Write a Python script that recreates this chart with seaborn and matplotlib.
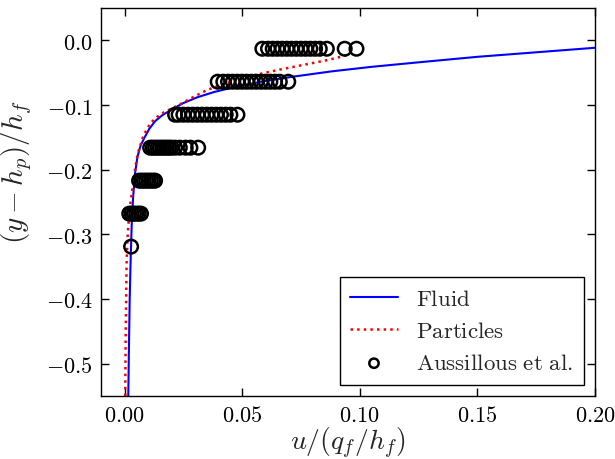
import matplotlib
matplotlib.use("Agg")
import matplotlib.pyplot as plt
import seaborn as sns
import numpy as np
import pandas as pd
from matplotlib.ticker import FuncFormatter, FixedLocator

# ---- data ----
fluid_u = [0.0016, 0.0019, 0.0022, 0.0026, 0.0031, 0.0037, 0.0045, 0.0055, 0.0068,
           0.0084, 0.0105, 0.0130, 0.0160, 0.0200, 0.0250, 0.0310, 0.0380, 0.0470,
           0.0580, 0.0720, 0.0880, 0.1050, 0.1250, 0.1500, 0.1750, 0.2000]
fluid_y = [-0.550, -0.470, -0.400, -0.340, -0.280, -0.240, -0.205, -0.180, -0.163,
           -0.151, -0.137, -0.125, -0.116, -0.107, -0.097, -0.088, -0.080, -0.072,
           -0.064, -0.056, -0.048, -0.041, -0.034, -0.0255, -0.0185, -0.0115]

part_u = [0.0003, 0.0005, 0.0009, 0.0014, 0.0022, 0.0035, 0.0046, 0.0057, 0.0078,
          0.0095, 0.0113, 0.0140, 0.0169, 0.0225, 0.0296, 0.0350, 0.0400, 0.0470,
          0.0550, 0.0650, 0.0760, 0.0870, 0.0945]
part_y = [-0.550, -0.450, -0.340, -0.297, -0.260, -0.225, -0.196, -0.174, -0.150,
          -0.137, -0.127, -0.118, -0.111, -0.101, -0.087, -0.077, -0.070, -0.062,
          -0.054, -0.046, -0.038, -0.030, -0.023]

exp_levels = [-0.319, -0.268, -0.217, -0.166, -0.115, -0.064, -0.013]
exp_u_rows = [
    [0.0028],
    [0.0020, 0.0030, 0.0040, 0.0050, 0.0060, 0.0070],
    [0.0062, 0.0072, 0.0082, 0.0092, 0.0102, 0.0112, 0.0122, 0.0130],
    [0.0109, 0.0120, 0.0130, 0.0140, 0.0150, 0.0160, 0.0170, 0.0180, 0.0190,
     0.0200, 0.0215, 0.0235, 0.0260, 0.0280, 0.0313],
    [0.0215, 0.0230, 0.0250, 0.0270, 0.0290, 0.0310, 0.0330, 0.0350, 0.0370,
     0.0390, 0.0410, 0.0430, 0.0450, 0.0480],
    [0.0396, 0.0420, 0.0440, 0.0460, 0.0480, 0.0500, 0.0520, 0.0540, 0.0560,
     0.0580, 0.0600, 0.0620, 0.0640, 0.0660, 0.0696],
    [0.0586, 0.0610, 0.0630, 0.0650, 0.0670, 0.0690, 0.0710, 0.0730, 0.0750,
     0.0770, 0.0790, 0.0810, 0.0830, 0.0860, 0.0936, 0.0986],
]

xticks = [0.00, 0.05, 0.10, 0.15, 0.20]
yticks = [-0.5, -0.4, -0.3, -0.2, -0.1, 0.0]

# ---- build frames ----
fluid_df = pd.DataFrame({"u": fluid_u, "y": fluid_y})
part_df = pd.DataFrame({"u": part_u, "y": part_y})
exp_u, exp_y = [], []
for lvl, row in zip(exp_levels, exp_u_rows):
    exp_u += row
    exp_y += [lvl] * len(row)
exp_df = pd.DataFrame({"u": exp_u, "y": exp_y})

sns.set_style("white")
plt.rcParams["mathtext.fontset"] = "cm"
plt.rcParams["font.family"] = ["DejaVu Serif"]

fig = plt.figure(figsize=(6.15, 4.6), dpi=100)
ax = fig.add_axes([101 / 615, 63 / 460, 494 / 615, 388 / 460])

sns.lineplot(data=fluid_df, x="u", y="y", ax=ax, sort=False, estimator=None,
             color=(0, 0, 1), lw=1.5, label=r"$\mathrm{Fluid}$")
sns.lineplot(data=part_df, x="u", y="y", ax=ax, sort=False, estimator=None,
             color=(1, 0, 0), lw=1.8, linestyle=":", label=r"$\mathrm{Particles}$")
sns.scatterplot(data=exp_df, x="u", y="y", ax=ax, marker="o", s=95,
                facecolors="none", edgecolor="k", linewidth=1.8,
                label=r"$\mathrm{Aussillous\ et\ al.}$", zorder=3)

ax.set_xlim(-0.01, 0.2)
ax.set_ylim(-0.55, 0.05)
ax.xaxis.set_major_locator(FixedLocator(xticks))
ax.yaxis.set_major_locator(FixedLocator(yticks))
ax.xaxis.set_major_formatter(FuncFormatter(lambda v, p: r"$%.2f$" % v))
ax.yaxis.set_major_formatter(FuncFormatter(lambda v, p: r"$%.1f$" % v))
ax.tick_params(direction="in", length=6, width=1, top=True, right=True,
               bottom=True, left=True, labelsize=16, colors="k", pad=6)
for s in ax.spines.values():
    s.set_color("k")
    s.set_linewidth(1.0)

ax.set_xlabel(r"$u/(q_f/h_f)$", fontsize=20, labelpad=-1)
ax.set_ylabel(r"$(y-h_p)/h_f$", fontsize=21)
ax.yaxis.set_label_coords(-0.135, 0.58)

leg = ax.legend(loc="lower right", fontsize=16.5, frameon=True, fancybox=False,
                edgecolor="k", framealpha=1, handlelength=2.1, handletextpad=0.8,
                borderaxespad=0.5, labelspacing=0.45, borderpad=0.45)
leg.get_frame().set_linewidth(1.0)
handles = leg.legend_handles
handles[2].set_sizes([45])

fig.savefig("out.png", dpi=100)
